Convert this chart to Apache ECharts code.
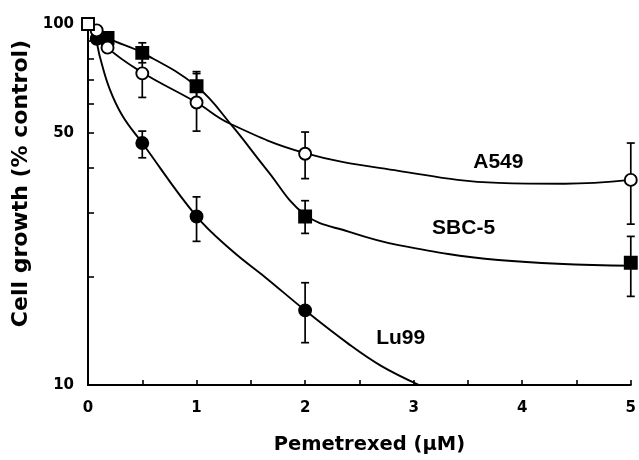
<!DOCTYPE html>
<html>
<head>
<meta charset="utf-8">
<script src="https://cdn.jsdelivr.net/npm/echarts@6/dist/echarts.min.js"></script>
<style>
  html, body { margin: 0; padding: 0; background: #fff; }
  #chart { width: 639px; height: 460px; }
</style>
</head>
<body>
<div id="chart"></div>
<script>
// control point (0 uM = 100 %)
const controlDose = [0];
const controlGrowth = [100];

// measured points
const a549Dose = [0.08, 0.18, 0.5, 1, 2, 5];
const a549Growth = [96, 86, 73, 60.6, 43.7, 37];
const sbc5Dose = [0.18, 0.5, 1, 2, 5];
const sbc5Growth = [91.5, 83.2, 67.2, 29.3, 21.8];
const lu99Dose = [0.08, 0.5, 1, 2];
const lu99Growth = [91, 46.8, 29.3, 16.1];

// error bars (low / high)
const a549ErrDose = [0.5, 1, 2, 5];
const a549ErrLow = [62.6, 50.5, 37.3, 27.9];
const a549ErrHigh = [86, 72.9, 50.2, 46.8];
const sbc5ErrDose = [0.5, 1, 2, 5];
const sbc5ErrLow = [78.1, 61, 26.3, 17.6];
const sbc5ErrHigh = [88.7, 73.8, 32.4, 25.8];
const lu99ErrDose = [0.5, 1, 2];
const lu99ErrLow = [42.6, 25.0, 13.1];
const lu99ErrHigh = [50.5, 33.2, 19.2];

// fitted curves
const a549CurveX = [0, 0.08, 0.18, 0.5, 1, 1.3, 2, 2.86, 3.78, 4.39, 5];
const a549CurveY = [100, 96, 86, 73.4, 60.6, 53.1, 43.9, 39.2, 36.3, 36.1, 37];
const sbc5CurveX = [0, 0.18, 0.5, 1, 1.33, 1.64, 2, 2.4, 2.86, 3.78, 5];
const sbc5CurveY = [100, 91.5, 83.2, 67.2, 52.1, 39.7, 29.6, 26.6, 24.4, 22.2, 21.4];
const lu99CurveX = [0, 0.07, 0.11, 0.2, 0.32, 0.5, 1, 1.33, 1.64, 2, 2.4, 2.7, 3.05];
const lu99CurveY = [100, 91, 81, 66, 55.5, 46.8, 29.3, 23.5, 19.8, 16.1, 13, 11.3, 10];

// in-plot labels
const labelNames = ['A549', 'SBC-5', 'Lu99'];
const labelDose = [3.78, 3.46, 2.88];
const labelGrowth = [41.3, 27.1, 13.5];

// axis ticks
const xTicks = [0, 1, 2, 3, 4, 5];
const yLabelValues = [10, 50, 100];
const yTickValues = [20, 30, 40, 50, 60, 70, 80, 90];

const ink = '#000';
const zip = (xs, ys) => xs.map((x, i) => [x, ys[i]]);
const zip3 = (xs, a, b) => xs.map((x, i) => [x, a[i], b[i]]);

function errorBar(params, api) {
  const x = api.value(0);
  const lo = api.coord([x, api.value(1)]);
  const hi = api.coord([x, api.value(2)]);
  const half = 4;
  const style = { stroke: ink, lineWidth: 1.7 };
  return {
    type: 'group',
    children: [
      { type: 'line', shape: { x1: lo[0], y1: lo[1], x2: hi[0], y2: hi[1] }, style: style },
      { type: 'line', shape: { x1: lo[0] - half, y1: lo[1], x2: lo[0] + half, y2: lo[1] }, style: style },
      { type: 'line', shape: { x1: hi[0] - half, y1: hi[1], x2: hi[0] + half, y2: hi[1] }, style: style }
    ]
  };
}

function curve(name, xs, ys) {
  return {
    name: name, type: 'line', data: zip(xs, ys), smooth: 0.4,
    showSymbol: false, z: 2, silent: true,
    lineStyle: { color: ink, width: 1.9 }
  };
}

function bars(name, xs, lo, hi) {
  return {
    name: name, type: 'custom', renderItem: errorBar, z: 3, silent: true,
    encode: { x: 0, y: [1, 2] },
    data: zip3(xs, lo, hi)
  };
}

function marks(name, xs, ys, symbol, filled) {
  return {
    name: name, type: 'scatter', data: zip(xs, ys), symbol: symbol,
    symbolSize: 12, z: 4,
    itemStyle: { color: filled ? ink : '#fff', borderColor: ink, borderWidth: 1.9, opacity: 1 }
  };
}

const chart = echarts.init(document.getElementById('chart'));

chart.setOption({
  animation: false,
  grid: { left: 88, right: 6, top: 24, bottom: 73 },
  xAxis: {
    type: 'value', min: 0, max: 5, interval: 0.5,
    name: 'Pemetrexed (\u03bcM)', nameLocation: 'middle', nameGap: 50,
    nameTextStyle: { fontFamily: 'DejaVu Sans', fontWeight: 'bold', fontSize: 19.5, color: ink, padding: [0, 0, 0, 20] },
    axisLine: { lineStyle: { color: ink, width: 2 } },
    axisTick: { inside: true, length: 5, lineStyle: { color: ink, width: 1.6 } },
    axisLabel: {
      margin: 16, fontFamily: 'DejaVu Sans', fontWeight: 'bold', fontSize: 15, color: ink,
      formatter: v => (xTicks.indexOf(v) >= 0 ? String(v) : '')
    },
    splitLine: { show: false }
  },
  yAxis: {
    type: 'log', logBase: 10, min: 10, max: 100,
    name: 'Cell growth (% control)', nameLocation: 'middle', nameGap: 52,
    nameTextStyle: { fontFamily: 'DejaVu Sans', fontWeight: 'bold', fontSize: 22, color: ink, padding: [0, 0, 0, 42] },
    axisLine: { lineStyle: { color: ink, width: 2 } },
    axisTick: { inside: true, length: 6, customValues: yTickValues, lineStyle: { color: ink, width: 1.6 } },
    axisLabel: {
      margin: 14, customValues: yLabelValues,
      fontFamily: 'DejaVu Sans', fontWeight: 'bold', fontSize: 15, color: ink
    },
    splitLine: { show: false },
    minorTick: { show: false }
  },
  series: [
    curve('A549 fit', a549CurveX, a549CurveY),
    curve('SBC-5 fit', sbc5CurveX, sbc5CurveY),
    curve('Lu99 fit', lu99CurveX, lu99CurveY),
    bars('A549 SD', a549ErrDose, a549ErrLow, a549ErrHigh),
    bars('SBC-5 SD', sbc5ErrDose, sbc5ErrLow, sbc5ErrHigh),
    bars('Lu99 SD', lu99ErrDose, lu99ErrLow, lu99ErrHigh),
    marks('Lu99', lu99Dose, lu99Growth, 'circle', true),
    marks('SBC-5', sbc5Dose, sbc5Growth, 'rect', true),
    marks('A549', a549Dose, a549Growth, 'circle', false),
    marks('Control', controlDose, controlGrowth, 'rect', false),
    {
      name: 'labels', type: 'scatter', symbolSize: 0, z: 5, silent: true,
      itemStyle: { opacity: 1 },
      data: labelNames.map((n, i) => [labelDose[i], labelGrowth[i], n]),
      label: {
        show: true, position: 'inside', formatter: p => p.value[2], opacity: 1,
        fontFamily: 'Liberation Sans', fontWeight: 'bold', fontSize: 21, color: ink
      }
    }
  ]
});
</script>
</body>
</html>
